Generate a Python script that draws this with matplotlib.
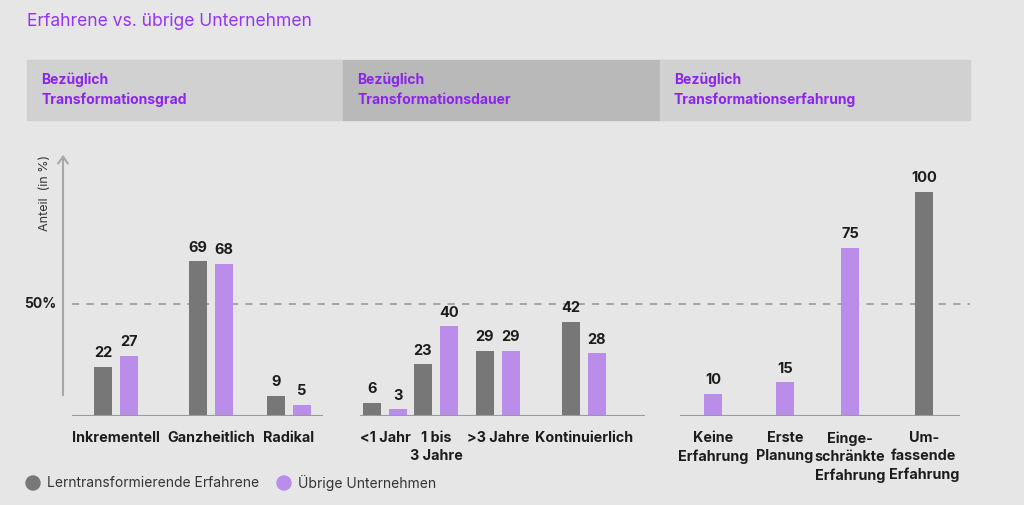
import numpy as np
import matplotlib.pyplot as plt
from matplotlib.patches import Rectangle, Ellipse

# data
panel_titles = ['Transformationsgrad', 'Transformationsdauer', 'Transformationserfahrung']
grad_labels = ['Inkrementell', 'Ganzheitlich', 'Radikal']
grad_erf = [22, 69, 9]
grad_ueb = [27, 68, 5]
dauer_labels = ['<1 Jahr', '1 bis\n3 Jahre', '>3 Jahre', 'Kontinuierlich']
dauer_erf = [6, 23, 29, 42]
dauer_ueb = [3, 40, 29, 28]
erf_labels = ['Keine\nErfahrung', 'Erste\nPlanung', 'Einge-\nschränkte\nErfahrung', 'Um-\nfassende\nErfahrung']
erf_erf = [None, None, None, 100]
erf_ueb = [10, 15, 75, None]
series_names = ['Lerntransformierende Erfahrene', 'Übrige Unternehmen']

# layout (pixel positions of group centres)
W, H = 1024, 505
grad_x = [116, 211, 289]
dauer_x = [385, 436, 498, 584]
erf_x = [713, 785, 850, 924]
bw = 18
off = 13

BG = '#e6e6e6'
GREY = '#777777'
LILA = '#b98de9'
PURPLE = '#8c24ec'
TXT = '#1c1c1c'

plt.rcParams['font.family'] = ['Inter', 'DejaVu Sans']

fig = plt.figure(figsize=(W / 100, H / 100), dpi=100, facecolor=BG)

def fx(x):
    return x / W

def fy(y):
    return 1 - y / H

# title
fig.text(fx(27), fy(22), 'Erfahrene vs. übrige Unternehmen', color='#9436f0',
         fontsize=12.6, va='center', ha='left')

# header boxes
boxes = [(27, 343, '#d1d1d1'), (343, 660, '#b9b9b9'), (660, 970, '#d1d1d1')]
for (x0, x1, c), t in zip(boxes, panel_titles):
    fig.patches.append(Rectangle((fx(x0), fy(120)), fx(x1 - x0), (120 - 60) / H,
                                 transform=fig.transFigure, color=c, zorder=0))
    fig.text(fx(x0 + 14), fy(80), 'Bezüglich', color=PURPLE, fontsize=10,
             fontweight='bold', va='center')
    fig.text(fx(x0 + 14), fy(100), t, color=PURPLE, fontsize=10,
             fontweight='bold', va='center')

# main axes: x in pixels, y in percent
base_y, top_y = 416, 152
px_per_unit = 2.24
ax = fig.add_axes([0, fy(base_y), 1, (base_y - top_y) / H])
ax.set_facecolor('none')
ax.set_xlim(0, W)
ax.set_ylim(0, (base_y - top_y) / px_per_unit)
ax.axis('off')

def bars(xs, vals, dx, color):
    for x, v in zip(xs, vals):
        if v is None:
            continue
        ax.bar(x + dx, v, width=bw, color=color, zorder=3)
        ax.text(x + dx, v + 3, str(v), ha='center', va='bottom', fontsize=10.5,
                fontweight='bold', color=TXT)

bars(grad_x, grad_erf, -off, GREY)
bars(grad_x, grad_ueb, off, LILA)
bars(dauer_x, dauer_erf, -off, GREY)
bars(dauer_x, dauer_ueb, off, LILA)
bars(erf_x, erf_erf, 0, GREY)
bars(erf_x, erf_ueb, 0, LILA)

# baselines
for x0, x1 in [(72, 323), (360, 645), (680, 960)]:
    ax.plot([x0, x1], [0, 0], color='#9a9a9a', lw=1.5, zorder=4, solid_capstyle='butt')

# 50% reference line
ax.plot([72, 970], [50, 50], color='#a0a0a0', lw=1.3, dashes=(4, 4), zorder=1)
ax.text(56, 50, '50%', ha='right', va='center', fontsize=10, fontweight='bold', color=TXT)

# y axis arrow
ax.annotate('', xy=(63, ax.get_ylim()[1]), xytext=(63, 8),
            arrowprops=dict(arrowstyle='->,head_length=0.5,head_width=0.35',
                            color='#a8a8a8', lw=1.5))
fig.text(fx(45), fy(193), 'Anteil  (in %)', rotation=90, ha='center', va='center',
         fontsize=9, color='#333333')

# category labels
for xs, labels in [(grad_x, grad_labels), (dauer_x, dauer_labels), (erf_x, erf_labels)]:
    for x, lab in zip(xs, labels):
        fig.text(fx(x), fy(431), lab, ha='center', va='top', fontsize=10.3,
                 fontweight='bold', color=TXT, linespacing=1.38)

# legend
for cx, c, name in [(33, GREY, series_names[0]), (284, LILA, series_names[1])]:
    fig.patches.append(Ellipse((fx(cx), fy(483)), 14 / W, 14 / H,
                               transform=fig.transFigure, color=c))
    fig.text(fx(cx + 14), fy(483), name, va='center', ha='left', fontsize=10,
             color='#333333')

plt.savefig('out.png', dpi=100, facecolor=BG)
